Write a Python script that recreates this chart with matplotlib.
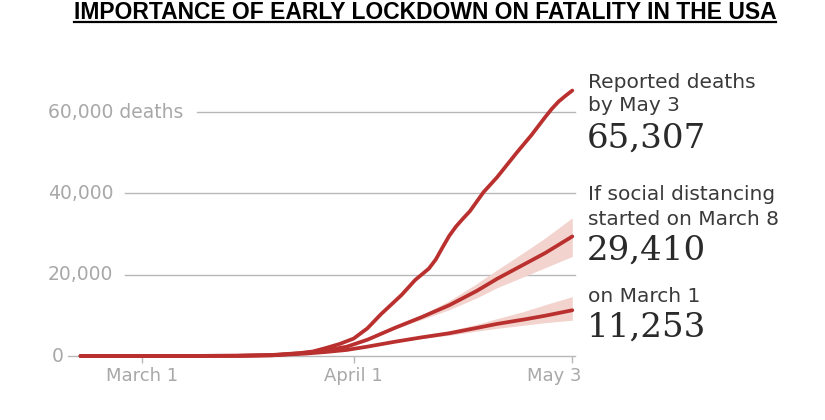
import pandas as pd
import matplotlib
matplotlib.use('Agg')
import matplotlib.pyplot as plt
import matplotlib.dates as mdates
from matplotlib.lines import Line2D

# 数据
reported_dates = ['2020-02-21', '2020-03-01', '2020-03-08', '2020-03-15', '2020-03-20',
                  '2020-03-24', '2020-03-26', '2020-03-28', '2020-03-30', '2020-04-01',
                  '2020-04-03', '2020-04-05', '2020-04-08', '2020-04-10', '2020-04-12',
                  '2020-04-13', '2020-04-14', '2020-04-15', '2020-04-16', '2020-04-17',
                  '2020-04-18', '2020-04-20', '2020-04-22', '2020-04-24', '2020-04-25',
                  '2020-04-27', '2020-04-28', '2020-04-29', '2020-04-30', '2020-05-01',
                  '2020-05-02', '2020-05-03']
reported = [0, 1, 20, 65, 250,
            700, 1100, 2000, 3000, 4300,
            6800, 10300, 15000, 18700, 21500,
            23700, 26700, 29600, 31900, 33800,
            35600, 40300, 44000, 48200, 50300,
            54300, 56500, 58700, 60800, 62600,
            64000, 65307]

scen_dates = ['2020-02-21', '2020-03-01', '2020-03-08', '2020-03-15', '2020-03-20',
              '2020-03-22', '2020-03-25', '2020-03-28', '2020-03-31', '2020-04-03',
              '2020-04-07', '2020-04-11', '2020-04-15', '2020-04-19', '2020-04-22',
              '2020-04-26', '2020-04-29', '2020-05-03']
march8 = [0, 1, 20, 60, 200, 400, 800, 1400, 2300, 4000, 6900, 9600, 12500, 16000, 19000, 22600, 25300, 29410]
march8_lo = [0, 1, 20, 60, 200, 400, 800, 1400, 2300, 4000, 6700, 9000, 11400, 14300, 16800, 19600, 21700, 24500]
march8_hi = [0, 1, 20, 60, 200, 400, 800, 1400, 2300, 4000, 7100, 10200, 13600, 17800, 21200, 25600, 29000, 34000]
march1 = [0, 1, 20, 55, 150, 350, 600, 1000, 1500, 2300, 3500, 4600, 5600, 6900, 7900, 9000, 9900, 11253]
march1_lo = [0, 1, 20, 55, 150, 350, 600, 1000, 1500, 2300, 3400, 4300, 5100, 6100, 6800, 7600, 8200, 8800]
march1_hi = [0, 1, 20, 55, 150, 350, 600, 1000, 1500, 2300, 3600, 4900, 6200, 7800, 9200, 11000, 12600, 14600]

tick_dates = ['2020-03-01', '2020-04-01', '2020-05-03']
tick_labels = ['March 1', 'April 1', 'May 3']
grid_values = [20000, 40000, 60000]
grid_labels = ['20,000', '40,000', '60,000 deaths']

RED = '#b9302f'
BAND = '#f2d3ce'
GRID = '#b8b8b8'
LABEL = '#a8a8a8'
TEXT = '#3a3a3a'

W, H = 825, 420
fig = plt.figure(figsize=(W / 100, H / 100), dpi=100)
fig.patch.set_facecolor('white')


def fx(px):
    return px / W


def fy(py):
    return 1 - py / H


ax = fig.add_axes([fx(40), fy(380), fx(540), (380 - 80) / H])
ax.set_axis_off()

rd = pd.to_datetime(reported_dates)
sd = pd.to_datetime(scen_dates)
td = pd.to_datetime(tick_dates)

mar1 = mdates.date2num(pd.Timestamp('2020-03-01'))
ax.set_xlim(mar1 - 14.93, mar1 + 64.13)
ax.set_ylim(-5904, 67900)

# 网格线
ax.axhline(0, xmin=0.052, xmax=0.991, color=GRID, lw=1.0, zorder=1)
for v, lab in zip(grid_values, grid_labels):
    start = 0.291 if 'deaths' in lab else 0.157
    ax.axhline(v, xmin=start, xmax=0.991, color=GRID, lw=1.0, zorder=1)
    ax.text(0.015, v, lab, transform=ax.get_yaxis_transform(), fontsize=13.5,
            color=LABEL, va='center', ha='left', family='DejaVu Sans')
ax.text(0.022, 0, '0', transform=ax.get_yaxis_transform(), fontsize=13.5,
        color=LABEL, va='center', ha='left', family='DejaVu Sans')

# 刻度
ax.vlines(td, -1750, 0, color=GRID, lw=1.0, zorder=1)
for d, lab in zip(td, tick_labels):
    ha = 'right' if lab == 'May 3' else 'center'
    xx = mdates.date2num(d) + (1.3 if lab == 'May 3' else 0)
    ax.text(xx, -5000, lab, fontsize=13, color=LABEL, ha=ha, va='center',
            family='DejaVu Sans')

# 置信区间
ax.fill_between(sd, march8_lo, march8_hi, color=BAND, lw=0, zorder=2)
ax.fill_between(sd, march1_lo, march1_hi, color=BAND, lw=0, zorder=2)

# 曲线
for yy in (march1, march8):
    ax.plot(sd, yy, color=RED, lw=2.7, solid_capstyle='round',
            solid_joinstyle='round', zorder=3)
ax.plot(rd, reported, color=RED, lw=2.7, solid_capstyle='round',
        solid_joinstyle='round', zorder=4)

# 右侧标注
tx = fx(588)
for text, py in [('Reported deaths', 88), ('by May 3', 111),
                 ('If social distancing', 200), ('started on March 8', 225),
                 ('on March 1', 302)]:
    fig.text(tx, fy(py), text, fontsize=14.5, color=TEXT, va='baseline', ha='left',
             family='DejaVu Sans')
for text, py in [('65,307', 148), ('29,410', 260), ('11,253', 337)]:
    fig.text(tx - fx(1), fy(py), text, fontsize=24.5, color='#2a2a2a', va='baseline',
             ha='left', family='DejaVu Serif')

# 标题
title = fig.text(fx(425), fy(19), 'IMPORTANCE OF EARLY LOCKDOWN ON FATALITY IN THE USA',
                 fontsize=16.5, fontweight='bold', color='black', ha='center',
                 va='baseline', family='Liberation Sans')
fig.canvas.draw()
bb = title.get_window_extent()
fig.add_artist(Line2D([bb.x0 / W, bb.x1 / W], [fy(21.5), fy(21.5)], color='black',
                      lw=1.6, transform=fig.transFigure))

fig.savefig('out.png', dpi=100)
